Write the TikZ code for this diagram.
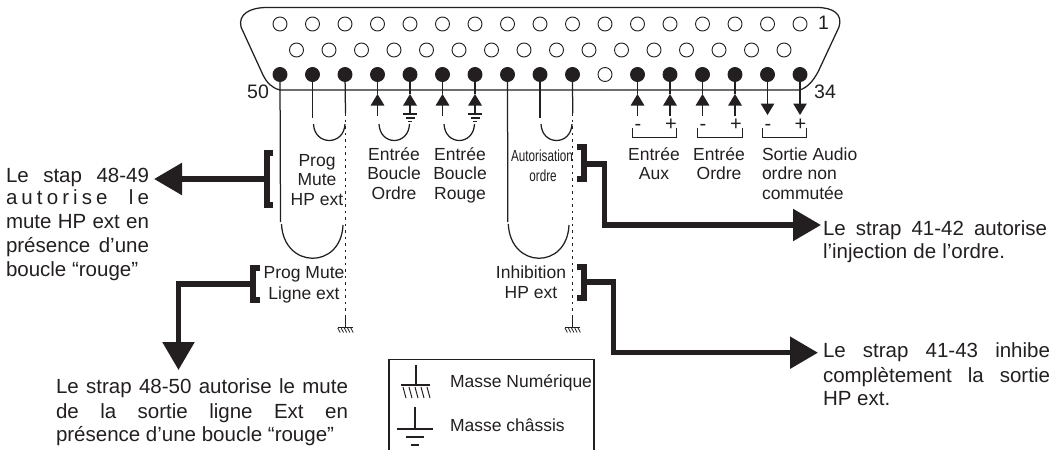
\documentclass[tikz,border=0pt]{standalone}
\usepackage{fontspec}
\usepackage{graphicx}
\setmainfont{Liberation Sans}
\usetikzlibrary{arrows.meta,calc}
\definecolor{ink}{HTML}{231F20}
\tikzset{
  every node/.style={text=ink},
  txt/.style={inner sep=0pt,outer sep=0pt,font=\fontsize{17.5}{19}\selectfont},
  lft/.style={txt,anchor=base west},
  ctr/.style={txt,anchor=base},
  note/.style={inner sep=0pt,outer sep=0pt,anchor=base west,font=\fontsize{20.5}{22}\selectfont},
  bignum/.style={inner sep=0pt,anchor=base west,font=\fontsize{19.5}{20}\selectfont},
  wire/.style={draw=ink,line width=1.25pt},
  thin line/.style={draw=ink,line width=1pt},
  dots/.style={draw=ink,line width=1.4pt,dash pattern=on 2.5pt off 4pt},
  pinopen/.style={circle,draw=ink,line width=0.9pt,minimum size=14pt,inner sep=0pt,fill=white},
  pinfull/.style={circle,draw=ink,line width=0.9pt,minimum size=14pt,inner sep=0pt,fill=ink},
  smallhead/.style={wire,-{Triangle[length=11.5pt,width=13.5pt,fill=ink]}},
  thick line/.style={draw=ink,line width=5.5pt,line join=miter},
  bighead/.style={thick line,-{Triangle[length=28pt,width=31pt,fill=ink]}},
  dgnd/.pic={
    \draw[thin line] (0,-10)--(0,0) (-7.5,0)--(7.5,0);
    \foreach \i in {-6.5,-3.2,0,3.2,6.5}{\draw[draw=ink,line width=0.8pt] (\i-1.2,1)--(\i+1.2,5.5);}
  },
  cgnd/.pic={
    \draw[wire] (-7,0)--(7,0);
    \draw[wire] (-4.5,4)--(4.5,4);
    \draw[wire] (-2,7.5)--(2,7.5);
  },
}
\newcommand{\just}[2]{\makebox[#1pt][s]{#2}}
\begin{document}
\begin{tikzpicture}[x=1pt,y=-1pt]
\useasboundingbox (0,0) rectangle (1062,450);
% shell
\draw[wire] (267,7.5) -- (817,7.5) .. controls (833,7.5) and (843,14) .. (839,27)
  -- (818,72) .. controls (813,81) and (808,87) .. (800,90) -- (280,90)
  .. controls (272,88) and (267,83) .. (263,75) -- (241,27)
  .. controls (238,14) and (250,7.5) .. (267,7.5) -- cycle;
% pins
\foreach \i in {0,...,16}{
  \node[pinopen] (t\i) at ({280+32.5*\i},24) {};
  \ifnum\i=10
    \node[pinopen] (b\i) at ({280+32.5*\i},74.5) {};
  \else
    \node[pinfull] (b\i) at ({280+32.5*\i},74.5) {};
  \fi
}
\foreach \i in {0,...,15}{\node[pinopen] (m\i) at ({296.5+32.5*\i},50) {};}
% numbers
\node[bignum] (n50) at (247,98) {50};
\node[bignum] (n34) at (814,98) {34};
\node[bignum] (n1) at (818,29) {1};
% long strap wires
\coordinate (e0) at (280.5,222); \coordinate (e7) at (507.8,222);
\draw[wire] (b0) -- (e0);
\draw[wire] (b7) -- (e7);
\coordinate (a0l) at (281.5,224); \coordinate (a0r) at (343,225);
\coordinate (a7l) at (508.3,224); \coordinate (a7r) at (569,225);
\draw[wire] (a0l) .. controls +(2,45) and +(-2,45) .. (a0r);
\draw[wire] (a7l) .. controls +(2,45) and +(-2,45) .. (a7r);
% short strap wires
\foreach \n/\xa/\xb in {1/313.5/345, 8/541/572}{
  \coordinate (e\n) at ($(b\n)+(0,43)$);
  \draw[wire] (b\n) -- (e\n);
  \coordinate (s\n l) at (\xa,124); \coordinate (s\n r) at (\xb,124);
  \draw[wire] (s\n l) .. controls +(1,22) and +(-1,22) .. (s\n r);
}
% dotted lines and grounds
\foreach \n/\x in {2/345.5,9/572.7}{
  \coordinate (e\n) at (\x,113); \coordinate (d\n) at (\x,317); \coordinate (g\n) at (\x,327);
  \draw[wire] (b\n) -- (e\n);
  \draw[dots] (e\n) -- (d\n);
  \pic at (g\n) {dgnd};
}
% input arrows with loops
\foreach \n/\xa in {3/377.5,4/410,5/442.5,6/475,11/637.5,12/670,13/702.5,14/735}{
  \coordinate (tip\n) at (\xa,94);
  \coordinate (base\n) at (\xa,105);
  \draw[wire] (b\n) -- (tip\n);
  \draw[smallhead] (base\n) -- (tip\n);
}
\foreach \n/\xa in {3/377.5,5/442.5,11/637.5,12/670,13/702.5,14/735}{
  \coordinate (e\n) at (\xa,116);
  \draw[wire] (base\n) -- (e\n);
}
\foreach \n/\xa in {4/410,6/475}{
  \coordinate (c\n) at (\xa,114);
  \draw[wire] (base\n) -- (c\n);
  \pic at (c\n) {cgnd};
}
\foreach \n/\xa/\xb in {3/379/409.5,5/444/474.5}{
  \coordinate (s\n l) at (\xa,124); \coordinate (s\n r) at (\xb,124);
  \draw[wire] (s\n l) .. controls +(1,22) and +(-1,22) .. (s\n r);
}
% output arrows
\foreach \n/\xa in {15/767.5,16/800}{
  \coordinate (tip\n) at (\xa,115);
  \draw[smallhead] (b\n) -- (tip\n);
}
% plus minus and small brackets
\foreach \x/\s/\id in {638/-/a,671/+/b,703/-/c,736/+/d,768/-/e,800.5/+/f}{
  \node[ctr,font=\fontsize{20}{20}\selectfont] (sig\id) at (\x,130) {\s};
}
\foreach \id/\xa/\xb in {a/632/676,b/697/742,c/762/806}{
  \coordinate (k\id a) at (\xa,128); \coordinate (k\id b) at (\xb,128);
  \draw[draw=ink,line width=0.9pt] (k\id a) -- ++(0,9) -| (k\id b);
}
% labels
\node[ctr] (l1a) at (317,166) {Prog};
\node[ctr] (l1b) at (317,185) {Mute};
\node[ctr] (l1c) at (317,205) {HP ext};
\node[ctr] (l2a) at (304,278) {Prog Mute};
\node[ctr] (l2b) at (304,299) {Ligne ext};
\node[ctr] (l3a) at (394,160) {Entrée};
\node[ctr] (l3b) at (394,179) {Boucle};
\node[ctr] (l3c) at (394,199) {Ordre};
\node[ctr] (l4a) at (460,160) {Entrée};
\node[ctr] (l4b) at (460,179) {Boucle};
\node[ctr] (l4c) at (460,199) {Rouge};
\node[ctr,font=\fontsize{16}{18}\selectfont] (l5a) at (542,161) {\scalebox{0.73}[1]{Autorisation}};
\node[ctr,font=\fontsize{16}{18}\selectfont] (l5b) at (543,181) {\scalebox{0.73}[1]{ordre}};
\node[ctr] (l6a) at (531,278) {Inhibition};
\node[ctr] (l6b) at (531,298) {HP ext};
\node[ctr] (l7a) at (654,160) {Entrée};
\node[ctr] (l7b) at (654,179) {Aux};
\node[ctr] (l8a) at (719,160) {Entrée};
\node[ctr] (l8b) at (719,179) {Ordre};
\node[lft] (l9a) at (762,160) {Sortie Audio};
\node[lft] (l9b) at (762,179) {ordre non};
\node[lft] (l9c) at (762,199) {commutée};
% thick brackets and arrows
\draw[thick line] (273,153) -- (267,153) -- (267,205) -- (273,205);
\coordinate (br1) at (267,179); \coordinate (ar1) at (154,179);
\draw[bighead] (br1) -- (ar1);
\draw[thick line] (260,268) -- (253,268) -- (253,300) -- (260,300);
\coordinate (br2) at (253,284); \coordinate (ar2) at (178.5,370);
\draw[bighead] (br2) -| (ar2);
\draw[thick line] (577,147) -- (584,147) -- (584,179) -- (577,179);
\coordinate (br3) at (584,164); \coordinate (ar3) at (821,225); \coordinate (cr3) at (604.5,225);
\draw[bighead] (br3) -| (cr3) -- (ar3);
\draw[thick line] (577,267) -- (584,267) -- (584,298) -- (577,298);
\coordinate (br4) at (584,282); \coordinate (ar4) at (818,352.7); \coordinate (cr4) at (613.5,352.7);
\draw[bighead] (br4) -| (cr4) -- (ar4);
% left note
\node[note] (n1a) at (6,182) {\just{143}{Le stap 48-49}};
\node[note] (n1b) at (6,204) {\just{143}{\addfontfeature{LetterSpace=20}autorise le}};
\node[note] (n1c) at (6,228) {\just{143}{mute HP ext en}};
\node[note] (n1d) at (6,252.5) {\just{143}{présence d’une}};
\node[note] (n1e) at (6,276) {boucle “rouge”};
% bottom left note
\node[note] (n2a) at (56,393) {\just{292}{Le strap 48-50 autorise le mute}};
\node[note] (n2b) at (56,418) {\just{292}{de la sortie ligne Ext en}};
\node[note] (n2c) at (56,441) {présence d’une boucle “rouge”};
% right notes
\node[note] (n3a) at (823,235) {\just{224}{Le strap 41-42 autorise}};
\node[note] (n3b) at (823,258) {\just{182}{l’injection de l’ordre.}};
\node[note] (n4a) at (823,357) {\just{227}{Le strap 41-43 inhibe}};
\node[note] (n4b) at (823,382) {\just{227}{complètement la sortie}};
\node[note] (n4c) at (823,405) {HP ext.};
% legend
\draw[draw=ink,line width=1.2pt] (389,450) -- (389,359.5) -- (594,359.5) -- (594,450);
\draw[wire] (416,365) -- (416,385);
\draw[wire] (401,385) -- (430,385);
\foreach \x in {403,409,415,421,427}{\draw[draw=ink,line width=1pt] (\x,387) -- (\x+3,398);}
\draw[wire] (415,407) -- (415,429);
\draw[wire] (397,429) -- (433,429);
\draw[wire] (406,437) -- (424,437);
\draw[wire] (411,445) -- (419,445);
\node[lft] (leg1) at (450,387) {Masse Numérique};
\node[lft] (leg2) at (450,431) {Masse châssis};
\end{tikzpicture}
\end{document}
